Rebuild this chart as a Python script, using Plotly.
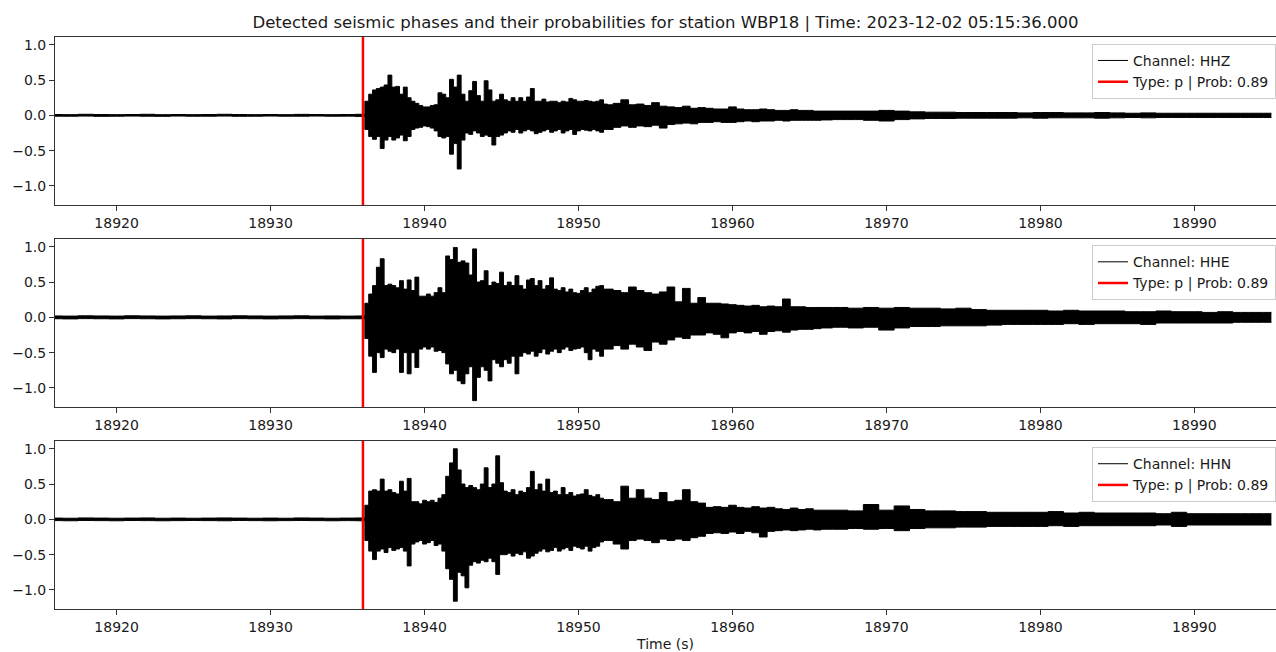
import numpy as np
import plotly.graph_objects as go

station = "WBP18"
start_time = "2023-12-02 05:15:36.000"
channels = ["HHZ", "HHE", "HHN"]
pick_type = "p"
pick_prob = 0.89
pick_time = 18936.0

x_ticks = [18920, 18930, 18940, 18950, 18960, 18970, 18980, 18990]
y_ticks = [-1.0, -0.5, 0.0, 0.5, 1.0]
X_RANGE = [18916.0, 18995.3]
Y_RANGE = [-1.27, 1.11]

# time bins of the read-off envelope (s)
t_pre = np.arange(18916.0, 18936.0, 1.0)
t_fine = np.arange(18936.0, 18952.0, 0.25)
t_mid = np.arange(18952.0, 18966.0, 0.5)
t_tail = np.arange(18966.0, 18996.0, 1.0)
time_s = np.concatenate([t_pre, t_fine, t_mid, t_tail])

# ---- HHZ envelope (upper / lower peaks) ----
hhz_upper = (
    [0.012, 0.010, 0.015, 0.012, 0.010, 0.012, 0.015, 0.010, 0.012, 0.010,
     0.012, 0.015, 0.012, 0.010, 0.012, 0.010, 0.014, 0.012, 0.010, 0.012]
    + [0.015, 0.20, 0.30, 0.36, 0.38, 0.40, 0.43, 0.57, 0.40, 0.41,
       0.30, 0.40, 0.25, 0.20, 0.17, 0.14, 0.12, 0.12, 0.14, 0.15,
       0.32, 0.30, 0.25, 0.51, 0.40, 0.57, 0.30, 0.20, 0.35, 0.48,
       0.28, 0.20, 0.49, 0.36, 0.20, 0.22, 0.30, 0.22, 0.20, 0.25,
       0.20, 0.25, 0.20, 0.26, 0.38, 0.20, 0.20, 0.23, 0.19, 0.20,
       0.20, 0.18, 0.20, 0.19, 0.24, 0.22, 0.20, 0.20, 0.21, 0.20,
       0.19, 0.20, 0.22, 0.16]
    + [0.15, 0.17, 0.22, 0.15, 0.16, 0.14, 0.18, 0.13, 0.12, 0.11,
       0.13, 0.10, 0.11, 0.10, 0.09, 0.09, 0.12, 0.09, 0.08, 0.08,
       0.09, 0.08, 0.07, 0.07, 0.08, 0.07, 0.07, 0.06]
    + [0.06, 0.06, 0.06, 0.06, 0.07, 0.06, 0.05, 0.045, 0.045, 0.04,
       0.04, 0.04, 0.04, 0.035, 0.04, 0.04, 0.035, 0.035, 0.04, 0.035,
       0.03, 0.035, 0.03, 0.03, 0.03, 0.03, 0.03, 0.03, 0.03, 0.03]
)
hhz_lower = (
    [-0.012, -0.012, -0.010, -0.014, -0.012, -0.010, -0.012, -0.014, -0.010, -0.012,
     -0.012, -0.010, -0.013, -0.012, -0.010, -0.012, -0.012, -0.010, -0.012, -0.011]
    + [-0.015, -0.20, -0.30, -0.34, -0.30, -0.47, -0.35, -0.30, -0.35, -0.32,
       -0.28, -0.36, -0.30, -0.20, -0.18, -0.17, -0.15, -0.16, -0.18, -0.22,
       -0.30, -0.32, -0.30, -0.55, -0.40, -0.76, -0.35, -0.25, -0.27, -0.22,
       -0.25, -0.30, -0.28, -0.30, -0.42, -0.30, -0.28, -0.25, -0.22, -0.24,
       -0.20, -0.25, -0.22, -0.20, -0.22, -0.26, -0.24, -0.22, -0.20, -0.24,
       -0.22, -0.20, -0.25, -0.22, -0.20, -0.27, -0.22, -0.20, -0.21, -0.22,
       -0.20, -0.22, -0.24, -0.20]
    + [-0.20, -0.17, -0.15, -0.17, -0.15, -0.16, -0.14, -0.18, -0.13, -0.12,
       -0.11, -0.12, -0.10, -0.10, -0.09, -0.10, -0.10, -0.09, -0.08, -0.09,
       -0.08, -0.08, -0.07, -0.08, -0.07, -0.07, -0.07, -0.07]
    + [-0.065, -0.06, -0.06, -0.07, -0.08, -0.06, -0.05, -0.045, -0.045, -0.04,
       -0.04, -0.04, -0.04, -0.035, -0.04, -0.035, -0.035, -0.035, -0.04, -0.035,
       -0.03, -0.035, -0.03, -0.03, -0.03, -0.03, -0.03, -0.03, -0.03, -0.03]
)

# ---- HHE envelope ----
hhe_upper = (
    [0.020, 0.018, 0.022, 0.020, 0.018, 0.022, 0.020, 0.018, 0.020, 0.022,
     0.018, 0.020, 0.022, 0.020, 0.018, 0.020, 0.022, 0.018, 0.020, 0.018]
    + [0.02, 0.20, 0.33, 0.45, 0.71, 0.83, 0.45, 0.47, 0.45, 0.42,
       0.52, 0.40, 0.53, 0.38, 0.57, 0.30, 0.30, 0.33, 0.30, 0.35,
       0.42, 0.35, 0.87, 0.82, 0.99, 0.78, 0.80, 0.77, 0.60, 0.97,
       0.50, 0.52, 0.66, 0.45, 0.50, 0.48, 0.64, 0.45, 0.50, 0.45,
       0.59, 0.45, 0.40, 0.53, 0.55, 0.45, 0.52, 0.40, 0.45, 0.56,
       0.40, 0.38, 0.42, 0.36, 0.40, 0.35, 0.34, 0.38, 0.42, 0.35,
       0.40, 0.44, 0.45, 0.40]
    + [0.40, 0.38, 0.35, 0.43, 0.38, 0.35, 0.33, 0.36, 0.43, 0.22,
       0.41, 0.20, 0.28, 0.20, 0.20, 0.19, 0.18, 0.17, 0.16, 0.17,
       0.15, 0.16, 0.15, 0.26, 0.15, 0.15, 0.14, 0.14]
    + [0.14, 0.14, 0.13, 0.14, 0.13, 0.14, 0.13, 0.13, 0.12, 0.13,
       0.11, 0.10, 0.10, 0.10, 0.10, 0.09, 0.10, 0.09, 0.09, 0.09,
       0.08, 0.08, 0.09, 0.08, 0.08, 0.07, 0.08, 0.07, 0.07, 0.07]
)
hhe_lower = (
    [-0.020, -0.022, -0.018, -0.020, -0.022, -0.018, -0.020, -0.022, -0.020, -0.018,
     -0.020, -0.022, -0.018, -0.020, -0.022, -0.020, -0.018, -0.020, -0.022, -0.020]
    + [-0.02, -0.30, -0.55, -0.78, -0.50, -0.57, -0.45, -0.48, -0.50, -0.45,
       -0.78, -0.50, -0.80, -0.50, -0.71, -0.45, -0.42, -0.45, -0.42, -0.48,
       -0.47, -0.50, -0.66, -0.80, -0.75, -0.90, -0.94, -0.80, -0.70, -1.18,
       -0.85, -0.70, -0.75, -0.90, -0.60, -0.65, -0.70, -0.60, -0.65, -0.55,
       -0.80, -0.55, -0.50, -0.52, -0.48, -0.55, -0.50, -0.45, -0.52, -0.48,
       -0.45, -0.50, -0.45, -0.42, -0.47, -0.45, -0.44, -0.42, -0.50, -0.60,
       -0.45, -0.48, -0.55, -0.45]
    + [-0.45, -0.40, -0.45, -0.38, -0.42, -0.47, -0.35, -0.38, -0.32, -0.28,
       -0.30, -0.25, -0.25, -0.22, -0.24, -0.29, -0.22, -0.20, -0.22, -0.20,
       -0.24, -0.20, -0.19, -0.21, -0.18, -0.17, -0.17, -0.16]
    + [-0.15, -0.14, -0.15, -0.14, -0.18, -0.15, -0.13, -0.13, -0.12, -0.12,
       -0.12, -0.11, -0.10, -0.10, -0.10, -0.10, -0.09, -0.10, -0.09, -0.09,
       -0.09, -0.10, -0.08, -0.08, -0.08, -0.08, -0.08, -0.07, -0.07, -0.07]
)

# ---- HHN envelope ----
hhn_upper = (
    [0.018, 0.016, 0.020, 0.018, 0.016, 0.018, 0.020, 0.016, 0.018, 0.016,
     0.018, 0.020, 0.018, 0.016, 0.018, 0.016, 0.020, 0.018, 0.016, 0.018]
    + [0.02, 0.20, 0.40, 0.42, 0.40, 0.57, 0.40, 0.42, 0.38, 0.36,
       0.54, 0.40, 0.58, 0.25, 0.25, 0.22, 0.27, 0.25, 0.27, 0.24,
       0.30, 0.35, 0.61, 0.80, 1.00, 0.70, 0.50, 0.45, 0.48, 0.45,
       0.42, 0.50, 0.73, 0.45, 0.50, 0.90, 0.52, 0.40, 0.38, 0.42,
       0.35, 0.40, 0.38, 0.45, 0.68, 0.42, 0.50, 0.40, 0.57, 0.38,
       0.40, 0.35, 0.45, 0.35, 0.38, 0.33, 0.35, 0.36, 0.42, 0.34,
       0.32, 0.35, 0.30, 0.28]
    + [0.28, 0.25, 0.47, 0.30, 0.42, 0.30, 0.28, 0.38, 0.25, 0.27,
       0.42, 0.25, 0.23, 0.17, 0.18, 0.17, 0.20, 0.17, 0.16, 0.18,
       0.16, 0.17, 0.15, 0.14, 0.16, 0.14, 0.15, 0.13]
    + [0.13, 0.13, 0.12, 0.21, 0.13, 0.19, 0.14, 0.12, 0.12, 0.11,
       0.11, 0.10, 0.10, 0.10, 0.10, 0.11, 0.09, 0.10, 0.09, 0.09,
       0.09, 0.09, 0.08, 0.10, 0.08, 0.08, 0.08, 0.08, 0.08, 0.08]
)
hhn_lower = (
    [-0.018, -0.020, -0.016, -0.018, -0.020, -0.016, -0.018, -0.020, -0.018, -0.016,
     -0.018, -0.020, -0.016, -0.018, -0.020, -0.018, -0.016, -0.018, -0.020, -0.018]
    + [-0.02, -0.30, -0.45, -0.57, -0.45, -0.42, -0.47, -0.40, -0.44, -0.42,
       -0.40, -0.45, -0.66, -0.35, -0.32, -0.30, -0.35, -0.33, -0.30, -0.37,
       -0.35, -0.45, -0.70, -0.85, -1.16, -0.75, -0.80, -0.97, -0.65, -0.60,
       -0.62, -0.58, -0.60, -0.55, -0.60, -0.78, -0.50, -0.50, -0.48, -0.52,
       -0.48, -0.50, -0.46, -0.55, -0.52, -0.48, -0.45, -0.42, -0.46, -0.44,
       -0.40, -0.45, -0.42, -0.40, -0.44, -0.38, -0.40, -0.42, -0.38, -0.45,
       -0.40, -0.38, -0.32, -0.30]
    + [-0.30, -0.35, -0.42, -0.30, -0.28, -0.30, -0.33, -0.28, -0.30, -0.28,
       -0.30, -0.26, -0.24, -0.20, -0.19, -0.20, -0.18, -0.20, -0.17, -0.19,
       -0.25, -0.17, -0.16, -0.15, -0.16, -0.15, -0.14, -0.15]
    + [-0.14, -0.14, -0.13, -0.14, -0.13, -0.16, -0.13, -0.12, -0.12, -0.11,
       -0.11, -0.10, -0.10, -0.10, -0.10, -0.09, -0.10, -0.09, -0.09, -0.09,
       -0.09, -0.09, -0.08, -0.10, -0.08, -0.08, -0.08, -0.08, -0.08, -0.08]
)

uppers = [hhz_upper, hhe_upper, hhn_upper]
lowers = [hhz_lower, hhe_lower, hhn_lower]

FONT = "DejaVu Sans"
AX = "#333333"

fig = go.Figure()
legends = ["legend", "legend2", "legend3"]
for i, ch in enumerate(channels):
    sfx = "" if i == 0 else str(i + 1)
    xa, ya = "x" + sfx, "y" + sfx
    fig.add_trace(go.Scatter(
        x=time_s, y=uppers[i], mode="lines", line=dict(color="black", width=1.0, shape="hvh"),
        name=f"Channel: {ch}", legend=legends[i], xaxis=xa, yaxis=ya, hoverinfo="skip"))
    fig.add_trace(go.Scatter(
        x=time_s, y=lowers[i], mode="lines", line=dict(color="black", width=1.0, shape="hvh"),
        fill="tonexty", fillcolor="black", showlegend=False, legend=legends[i],
        xaxis=xa, yaxis=ya, hoverinfo="skip"))
    fig.add_trace(go.Scatter(
        x=[pick_time, pick_time], y=Y_RANGE, mode="lines", line=dict(color="red", width=2.5),
        name=f"Type: {pick_type} | Prob: {pick_prob:.2f}", legend=legends[i],
        xaxis=xa, yaxis=ya, hoverinfo="skip"))

H = 572.0
domains = [[404 / H, 1.0], [202 / H, 370 / H], [0.0, 168 / H]]
legend_y = [0.988, 0.636, 0.283]

axis_common = dict(showline=True, mirror=True, linecolor=AX, linewidth=1, ticks="outside",
                   ticklen=5, tickwidth=1, tickcolor=AX, showgrid=False, zeroline=False,
                   tickfont=dict(family=FONT, size=14, color="#1a1a1a"))
layout = dict(
    width=1276, height=652,
    margin=dict(l=55, r=0, t=37, b=43),
    paper_bgcolor="white", plot_bgcolor="white",
    font=dict(family=FONT, size=14, color="#1a1a1a"),
    title=dict(text=f"Detected seismic phases and their probabilities for station {station} | Time: {start_time}",
               x=0.5, xref="paper", xanchor="center", y=1 - 22 / 652, yref="container", yanchor="middle",
               font=dict(family=FONT, size=16.5, color="#1a1a1a")),
)
for i in range(3):
    sfx = "" if i == 0 else str(i + 1)
    xa = dict(axis_common, range=X_RANGE, tickvals=x_ticks, tickformat="d",
              anchor="y" + sfx, domain=[0, 1])
    if i == 2:
        xa["title"] = dict(text="Time (s)", font=dict(family=FONT, size=14), standoff=6)
    ya = dict(axis_common, range=Y_RANGE, tickvals=y_ticks, tickformat=".1f",
              anchor="x" + sfx, domain=domains[i])
    layout["xaxis" + sfx] = xa
    layout["yaxis" + sfx] = ya
    layout[legends[i]] = dict(x=1.0, xanchor="right", y=legend_y[i], yanchor="top",
                              bgcolor="rgba(255,255,255,0.85)", bordercolor="#cccccc", borderwidth=1,
                              font=dict(family=FONT, size=14, color="#1a1a1a"), traceorder="normal")

fig.update_layout(**layout)
fig.write_html("out.html")
